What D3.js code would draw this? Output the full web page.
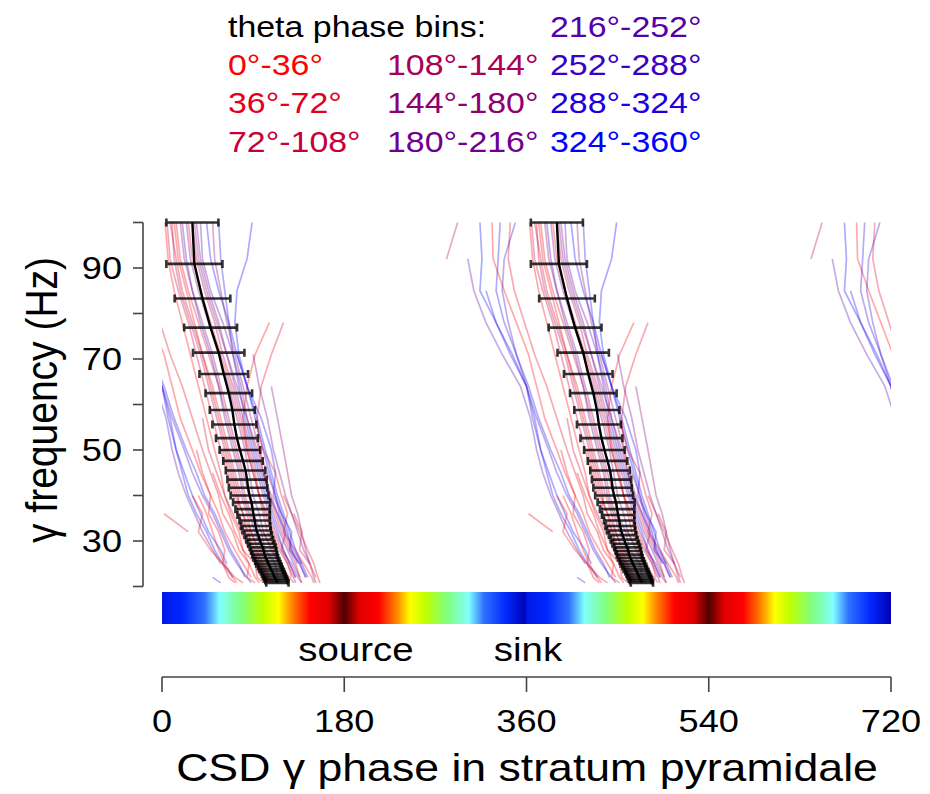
<!DOCTYPE html>
<html>
<head>
<meta charset="utf-8">
<script src="https://cdn.jsdelivr.net/npm/d3@7"></script>
<style>
  body { margin: 0; background: #fff; }
  text { font-family: "Liberation Sans", Arial, Helvetica, sans-serif; }
</style>
</head>
<body>
<script>
// ---- data ----

var binLabels = ["0°-36°", "36°-72°", "72°-108°", "108°-144°", "144°-180°",
                 "180°-216°", "216°-252°", "252°-288°", "288°-324°", "324°-360°"];

var knotFreqs = [100, 92, 85, 78, 71, 64, 57, 50, 45, 40, 36, 32, 28, 25, 22, 20.8];

// theta bin of every trace, and its gamma phase (deg) at each knot frequency
var traceBins = [3, 9, 0, 1, 7, 0, 2, 1, 4, 5, 3, 6, 8, 9, 0, 1, 4, 8, 2, 0, 7, 5, 9, 1, 4, 0, 2, 8, 1, 1, 8, 5, 0, 6,
                 0, 1, 0, 8, 2, 4, 0, 1, 8, 2];
var tracePhases = [
  [-68, -79, null, null, null, null, null, null, null, null, null, null, null, null, null, null],
  [-46, -44, -46, -30, -14, 0, 8, 14, 22, 30, 38, 46, 58, 64, null, null],
  [-34, -33, -22, -10, 2, 10, 18, 30, 38, 48, 56, 62, 72, 80, 88, null],
  [-16, -18, -12, -2, 8, 20, 30, 40, 48, 56, 60, 70, 76, 86, 92, 96],
  [-11, -22, -24, -18, -10, 0, 10, 22, 30, 40, 50, 58, 66, 74, 84, 88],
  [3, 6, 12, 20, 28, 36, 44, 52, 58, 62, 68, 76, 80, 92, 94, 100],
  [10, 12, 18, 28, 38, 46, 54, 62, 68, 74, 80, 84, 92, 98, 104, 108],
  [14, 18, 26, 36, 46, 56, 64, 72, 78, 82, 88, 94, 100, 106, 112, 114],
  [18, 22, 30, 40, 50, 58, 66, 74, 80, 86, 90, 98, 102, 112, 114, 118],
  [24, 28, 36, 46, 56, 66, 74, 82, 86, 90, 96, 100, 108, 116, 120, null],
  [30, 34, 42, 52, 60, 70, 78, 86, 92, 96, 102, 108, 116, 124, 130, 132],
  [38, 40, 48, 60, 70, 78, 84, 92, 98, 104, 110, 116, 124, 130, 136, null],
  [56, 58, 62, 66, 70, 76, 82, 90, 96, 102, 108, 114, 120, 126, 132, null],
  [89, 84, 74, 72, 76, 84, 94, 102, 108, 114, 120, 126, 132, 138, null, null],
  [null, null, null, 106, 92, 84, 80, 84, 90, 96, 104, 110, 118, 124, 128, null],
  [null, null, null, 120, 108, 98, 94, 96, 100, 106, 112, 118, 126, 132, 136, 138],
  [null, null, null, null, null, 108, 114, 120, 124, 128, 134, 138, 142, 146, 150, 152],
  [null, null, -40, -30, -16, 0, 6, 14, 20, 26, 34, 44, 52, 60, 70, null],
  [5, 8, 16, 26, 34, 42, 50, 58, 64, 70, 76, 82, 90, 96, 102, 104],
  [12, 16, 24, 32, 40, 50, 58, 66, 72, 78, 84, 88, 94, 100, 106, 110],
  [20, 24, 30, 38, 48, 56, 62, 70, 76, 80, 86, 92, 98, 106, 110, 112],
  [34, 38, 46, 56, 64, 72, 80, 88, 94, 100, 106, 112, 120, 126, 132, null],
  [44, 48, 56, 66, 74, 84, 92, 100, 106, 112, 118, 124, 128, 134, null, null],
  [26, 30, 38, 48, 58, 68, 76, 84, 90, 96, 100, 104, 112, 118, 124, 126],
  [32, 36, 44, 54, 64, 74, 84, 94, 100, 108, 114, 120, 128, 136, 142, null],
  [null, null, null, null, null, null, null, 60, 66, 72, 80, 88, 96, 104, 112, 116],
  [null, null, null, null, null, null, 40, 46, 54, 62, 70, 78, 86, 94, 100, 104],
  [null, null, null, null, null, null, null, null, 100, 106, 114, 122, 130, 138, 144, null],
  [null, null, null, null, null, null, null, null, null, 120, 128, 136, 144, 150, 154, 156],
  [null, null, null, null, null, null, null, null, null, null, 2, 26, null, null, null, null],
  [null, null, null, null, null, null, null, null, null, null, null, null, null, null, 50, 58],
  [null, null, null, null, 90, 96, 104, 110, 116, 122, 128, 134, 140, 146, null, null],
  [null, null, null, null, null, null, null, null, null, 36, 44, 50, 56, 62, 70, 74],
  [null, -58, -52, -40, -24, -6, 4, 10, 16, 24, 32, 40, 50, 58, null, null],
  [null, null, null, null, null, null, null, null, null, 30, 40, 36, 48, 60, 66, 72],
  [null, null, null, null, null, null, null, 34, 40, 48, 46, 56, 62, 60, 72, 80],
  [null, null, null, null, null, null, 92, 100, 112, 118, 124, 120, 132, 140, 148, 150],
  [null, null, null, null, 74, 84, 98, 108, 112, 110, 118, 128, 126, 136, 142, null],
  [8, 14, 20, 30, 40, 48, 56, 64, 70, 76, 74, 86, 88, 98, 104, 106],
  [50, 52, 58, 64, 72, 80, 88, 96, 104, 112, 116, 122, 118, 128, 134, 138],
  [null, null, null, null, null, null, null, null, 50, 58, 66, 72, 80, 86, 84, 92],
  [null, null, null, null, null, null, null, null, null, null, null, 100, 110, 116, 126, 130],
  [-26, -28, -30, -22, -10, 2, 12, 24, 34, 42, 52, 60, 68, 76, 82, null],
  [null, null, null, null, null, null, null, null, null, null, 130, 138, 136, 146, 152, null]
];

// mean gamma phase across traces with its spread
var meanFreqs = [100, 90.9, 83.3, 76.9, 71.4, 66.7, 62.5, 58.8, 55.6, 52.6, 50, 47.6, 45.5, 43.5,
                 41.7, 40, 38.5, 37, 35.7, 34.5, 33.3, 32.3, 31.3, 30.3, 29.4, 28.6, 27.8, 27,
                 26.3, 25.6, 25, 24.4, 23.8, 23.3, 22.7, 22.2, 21.7, 21.3, 20.8];
var meanPhase = [30, 32, 40, 48, 56, 61, 66, 69.5, 71.5, 74, 77, 80, 82.5, 84,
                 85, 86.5, 88.5, 89.5, 90.5, 91.5, 92.5, 93.5, 95, 96.5, 98, 99.5, 100.5, 101.5,
                 102.5, 104, 105, 106.5, 107.5, 109, 110, 111, 112, 113, 114];
var phaseSpread = [25.7, 27.7, 27.5, 26.1, 25.4, 24, 23, 22.3, 21.7, 20.7, 20.1, 19.5, 19.5, 19.4,
                   19, 18.7, 18.3, 17, 16, 15, 14.5, 14, 13.5, 13.2, 13, 12.8, 12.6, 12.4,
                   12.2, 12, 12, 11.8, 11.6, 11.5, 11.3, 11.2, 11.1, 11, 11];

var xTicks = [0, 180, 360, 540, 720];
var yTicks = [20, 30, 40, 50, 60, 70, 80, 90, 100];
var yTickLabels = [30, 50, 70, 90];
var copies = [0, 360, 720];

// colour bar stops over one cycle (deg)
var cbPhase = [0, 20, 42, 57, 78, 100, 115, 127, 146, 165, 180, 195, 214, 233, 245, 260, 282, 303, 318, 340, 360];
var cbColor = ["#0018e8", "#0028ff", "#3070ff", "#80ffff", "#80ff80", "#c0ff00", "#ffff00", "#ff9000", "#ff0000", "#e00000",
               "#500000", "#e00000", "#ff0000", "#ff9000", "#ffff00", "#c0ff00", "#80ff80", "#80ffff", "#3070ff", "#0028ff", "#0000b0"];

// ---- chart ----

var W = 930, H = 794;
var STRETCH = 1.13;   // glyphs in the figure are a bit wide

var x = d3.scaleLinear().domain([0, 720]).range([162, 891]);
var y = d3.scaleLinear().domain([20, 100]).range([586.5, 222.5]);
var binColor = function(i) { return d3.rgb(255 * (9 - i) / 9, 0, 255 * i / 9).toString(); };

var svg = d3.select("body").append("svg")
    .attr("width", W).attr("height", H);

var defs = svg.append("defs");
defs.append("clipPath").attr("id", "plot-clip")
  .append("rect")
    .attr("x", x(0)).attr("y", y(100) - 2)
    .attr("width", x(720) - x(0)).attr("height", y(20) - y(100) + 4);

var grad = defs.append("linearGradient").attr("id", "cb-grad")
    .attr("gradientUnits", "userSpaceOnUse")
    .attr("x1", x(0)).attr("x2", x(720)).attr("y1", 0).attr("y2", 0);
[0, 360].forEach(function(off) {
  cbPhase.forEach(function(p, i) {
    grad.append("stop").attr("offset", (p + off) / 720).attr("stop-color", cbColor[i]);
  });
});

function stretchedText(g, str, px, py, size, anchor) {
  return g.append("text")
      .attr("transform", "translate(" + px + "," + py + ") scale(" + STRETCH + ",1)")
      .attr("font-size", size)
      .attr("text-anchor", anchor || "start")
      .text(str);
}

// legend
var legend = svg.append("g");
var colX = [228, 387, 550], rowY = [37, 75, 113, 152];
stretchedText(legend, "theta phase bins:", colX[0], rowY[0], 30).attr("fill", "#000");
binLabels.forEach(function(lab, i) {
  var col = i < 3 ? 0 : (i < 6 ? 1 : 2);
  var row = i < 6 ? (i % 3) + 1 : i - 6;
  stretchedText(legend, lab, colX[col], rowY[row], 30).attr("fill", binColor(i));
});

// single traces, repeated every 360 deg
var line = d3.line()
    .defined(function(d) { return d[1] != null; })
    .x(function(d) { return x(d[1] + d[2]); })
    .y(function(d) { return y(d[0]); });

var traces = svg.append("g").attr("clip-path", "url(#plot-clip)")
    .attr("fill", "none").attr("stroke-width", 1.7).attr("stroke-opacity", 0.33);
copies.forEach(function(off) {
  tracePhases.forEach(function(ph, i) {
    var pts = knotFreqs.map(function(f, k) { return [f, ph[k], off]; });
    traces.append("path")
        .attr("stroke", binColor(traceBins[i]))
        .attr("d", line(pts));
  });
});

// mean with spread
var meanG = svg.append("g").attr("fill", "none");
[0, 360].forEach(function(off) {
  var pts = meanFreqs.map(function(f, k) { return [f, meanPhase[k], off]; });
  meanG.append("path").attr("d", line(pts)).attr("stroke", "#000").attr("stroke-width", 2.4);
  meanFreqs.forEach(function(f, k) {
    var x0 = x(meanPhase[k] - phaseSpread[k] + off), x1 = x(meanPhase[k] + phaseSpread[k] + off), yy = y(f);
    meanG.append("path")
        .attr("d", "M" + x0 + "," + yy + "H" + x1 +
                   "M" + x0 + "," + (yy - 4) + "V" + (yy + 4) +
                   "M" + x1 + "," + (yy - 4) + "V" + (yy + 4))
        .attr("stroke", "#000").attr("stroke-opacity", 0.8).attr("stroke-width", 2.6);
  });
});

// y axis
var yAxis = svg.append("g").attr("stroke", "#444").attr("stroke-width", 1.6);
yAxis.append("line").attr("x1", 143).attr("x2", 143).attr("y1", y(20)).attr("y2", y(100));
yAxis.selectAll("line.tick").data(yTicks).enter().append("line").attr("class", "tick")
    .attr("x1", 133).attr("x2", 143).attr("y1", y).attr("y2", y);
yTickLabels.forEach(function(v) {
  stretchedText(svg, v, 122, y(v) + 11, 32, "end").attr("fill", "#000");
});
svg.append("text")
    .attr("transform", "translate(57," + 400 + ") rotate(-90) scale(1," + STRETCH + ")")
    .attr("font-size", 39).attr("text-anchor", "middle").attr("fill", "#000")
    .text("γ frequency (Hz)");

// colour bar
svg.append("rect")
    .attr("x", x(0)).attr("y", 592).attr("width", x(720) - x(0)).attr("height", 32)
    .attr("fill", "url(#cb-grad)");
stretchedText(svg, "source", 356, 661, 34, "middle").attr("fill", "#000");
stretchedText(svg, "sink", 528, 661, 34, "middle").attr("fill", "#000");

// x axis
var xAxis = svg.append("g").attr("stroke", "#444").attr("stroke-width", 1.6);
xAxis.append("line").attr("x1", x(0)).attr("x2", x(720)).attr("y1", 677).attr("y2", 677);
xAxis.selectAll("line.tick").data(xTicks).enter().append("line").attr("class", "tick")
    .attr("x1", x).attr("x2", x).attr("y1", 677).attr("y2", 692);
xTicks.forEach(function(v) {
  stretchedText(svg, v, x(v), 732, 32, "middle").attr("fill", "#000");
});
stretchedText(svg, "CSD γ phase in stratum pyramidale", 527, 781, 39.5, "middle").attr("fill", "#000");
</script>
</body>
</html>
